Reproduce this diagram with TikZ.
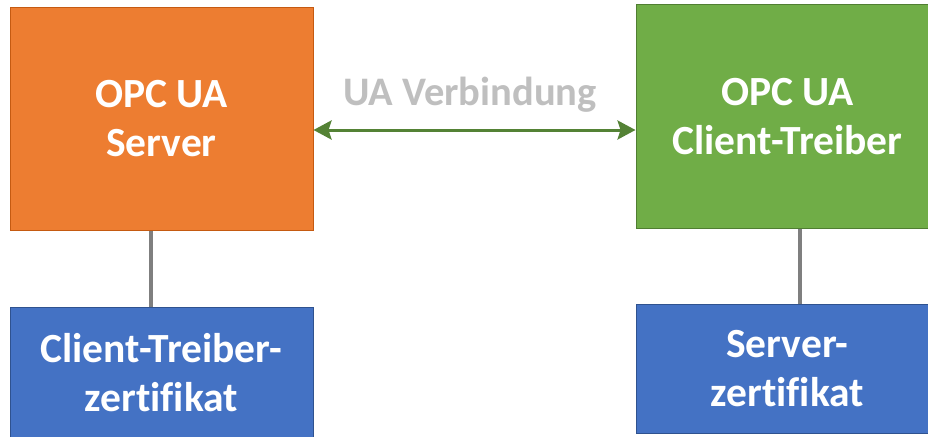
\documentclass[tikz,border=0pt]{standalone}
\usepackage{fontspec}
\setmainfont[Ligatures={NoCommon}]{Carlito}
\usetikzlibrary{arrows.meta}
\definecolor{orangefill}{HTML}{ED7D31}
\definecolor{orangeline}{HTML}{C55A11}
\definecolor{greenfill}{HTML}{70AD47}
\definecolor{greenline}{HTML}{507E32}
\definecolor{bluefill}{HTML}{4472C4}
\definecolor{blueline}{HTML}{2F528F}
\definecolor{arrowgreen}{HTML}{548235}
\definecolor{conngray}{HTML}{7F7F7F}
\definecolor{labelgray}{HTML}{BFBFBF}
\tikzset{
  box/.style={draw, line width=1pt, minimum width=303pt, inner sep=0pt, align=center,
    text=white, font=\bfseries\fontsize{41.5}{49}\selectfont},
  orangebox/.style={box, fill=orangefill, draw=orangeline, minimum height=222pt},
  greenbox/.style={box, fill=greenfill, draw=greenline, minimum height=223pt},
  bluebox/.style={box, fill=bluefill, draw=blueline},
  conn/.style={draw=conngray, line width=4pt},
  linkarrow/.style={draw=arrowgreen, line width=3pt,
    {Stealth[length=18pt,width=19pt,inset=3pt]}-{Stealth[length=18pt,width=19pt,inset=3pt]}},
  linklabel/.style={text=labelgray, font=\bfseries\fontsize{40.5}{48}\selectfont, inner sep=0pt}
}
\begin{document}
\begin{tikzpicture}[x=1pt,y=-1pt]
\useasboundingbox (0,0) rectangle (928,436);
\clip (0,0) rectangle (928,436);
\fill[white] (0,0) rectangle (928,436);
\node[orangebox] (server) at (161.5,119) {OPC UA\\Server};
\node[greenbox] (client) at (787.5,116.5) {OPC UA\\Client-Treiber};
\node[bluebox, minimum height=131pt] (lcert) at (161.5,372.5) {Client-Treiber-\\zertifikat};
\node[bluebox, minimum height=129pt] (rcert) at (787.5,368.5) {Server-\\zertifikat};
\draw[conn] ([xshift=-10.5pt]server.south) -- ([xshift=-10.5pt]lcert.north);
\draw[conn] ([xshift=12.5pt]client.south) -- ([xshift=12.5pt]rcert.north);
\draw[linkarrow] ([yshift=-11pt]server.east) -- ([yshift=-11pt]server.east -| client.west);
\node[linklabel, anchor=base] (lbl) at (470,105) {UA Verbindung};
\end{tikzpicture}
\end{document}
